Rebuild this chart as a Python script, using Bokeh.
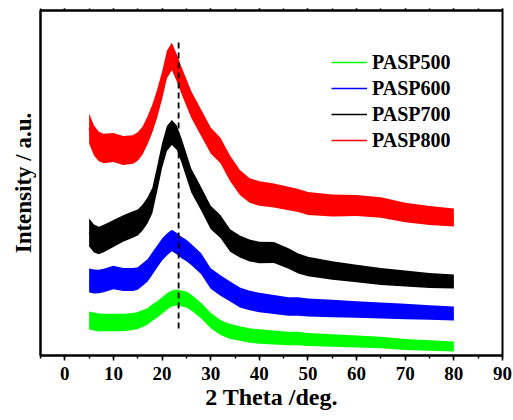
import numpy as np
from bokeh.plotting import figure
from bokeh.models import (LinearAxis, SingleIntervalTicker, FixedTicker, Range1d,
                          Legend, LegendItem)
from bokeh.embed import file_html
from bokeh.resources import INLINE

# ---- data (2 theta in degrees, intensity in a.u.) ----
two_theta = [5, 6, 7, 8, 10, 12, 14, 15, 16, 17, 18, 19, 20, 21, 22, 23, 24, 25, 26,
             28, 30, 32, 34, 36, 38, 40, 43, 46, 48, 50, 55, 60, 65, 70, 75, 80]

pasp800 = [227, 215, 209, 207, 208, 205, 206, 209, 215, 225, 237, 252, 270, 291, 299,
           288, 275, 263, 251, 233, 215, 205, 187, 173, 165, 162, 160, 157, 155, 152,
           150, 150, 148, 143, 140, 138]
pasp700 = [123, 117, 115, 117, 122, 127, 131, 133, 138, 145, 155, 177, 200, 217, 223,
           218, 205, 190, 175, 157, 138, 129, 115, 109, 105, 103, 103, 97, 92, 89,
           85, 82, 79, 77, 75, 74]
pasp600 = [75, 74, 74, 75, 78, 76, 76, 77, 81, 85, 92, 99, 106, 111, 115, 112, 108,
           105, 101, 92, 77, 70, 64, 58, 55, 53, 51, 49, 49, 48, 47, 46, 45, 44, 43, 42]
pasp500 = [35, 34, 33, 33, 33, 33, 34, 35, 37, 39, 43, 46, 50, 54, 57, 58, 57, 56, 53,
           45, 35, 28, 24, 22, 20, 19, 18, 17, 17, 16, 15, 14, 13, 11, 10, 9]

# noise half-amplitude (low angle, high angle)
noise_800 = (15, 9)
noise_700 = (14, 7)
noise_600 = (12, 7)
noise_500 = (9, 5)

series_names = ["PASP500", "PASP600", "PASP700", "PASP800"]
series_values = [pasp500, pasp600, pasp700, pasp800]
series_noise = [noise_500, noise_600, noise_700, noise_800]
series_colors = ["#00FF00", "#0000FF", "#000000", "#FF0000"]

peak_position = 23.4
peak_marker_span = [27, 315]

x_tick_values = [0, 10, 20, 30, 40, 50, 60, 70, 80, 90]
x_tick_interval = 10

x_title = "2 Theta /deg."
y_title = "Intensity / a.u."

FONT = "Liberation Serif"

p = figure(frame_width=462, frame_height=345,
           x_range=Range1d(-5, 90), y_range=Range1d(0, 345),
           output_backend="svg", toolbar_location=None,
           min_border_left=40, min_border_right=11, min_border_top=10, min_border_bottom=65)
p.grid.visible = False
p.outline_line_color = "black"
p.outline_line_width = 2
p.background_fill_color = "white"
p.border_fill_color = "white"

xa = p.xaxis[0]
xa.ticker = SingleIntervalTicker(interval=x_tick_interval, num_minor_ticks=2)
xa.axis_line_width = 2
xa.major_tick_line_width = 1.5
xa.minor_tick_line_width = 1.5
xa.major_tick_in = 0
xa.major_tick_out = 5
xa.minor_tick_in = 0
xa.minor_tick_out = 3
xa.major_label_text_font = FONT
xa.major_label_text_font_style = "bold"
xa.major_label_text_font_size = "19px"
xa.major_label_text_color = "black"
xa.major_label_standoff = 6
xa.axis_label = x_title
xa.axis_label_text_font = FONT
xa.axis_label_text_font_style = "bold"
xa.axis_label_text_font_size = "24px"
xa.axis_label_text_color = "black"
xa.axis_label_standoff = 1

ya = p.yaxis[0]
ya.ticker = FixedTicker(ticks=[])
ya.axis_line_width = 2
ya.major_tick_out = 0
ya.major_tick_in = 0
ya.minor_tick_out = 0
ya.minor_tick_in = 0
ya.axis_label = y_title
ya.axis_label_text_font = FONT
ya.axis_label_text_font_style = "bold"
ya.axis_label_text_font_size = "23px"
ya.axis_label_text_color = "black"
ya.axis_label_standoff = 5

top = LinearAxis(ticker=SingleIntervalTicker(interval=x_tick_interval, num_minor_ticks=2))
top.axis_line_width = 2
top.major_tick_in = 0
top.major_tick_out = 2
top.minor_tick_in = 0
top.minor_tick_out = 2
top.major_tick_line_width = 1.5
top.minor_tick_line_width = 1.5
top.major_label_overrides = {t: "" for t in x_tick_values}
top.major_label_text_font_size = "1px"
top.major_label_standoff = 0
p.add_layout(top, "above")

x = np.array(two_theta, dtype=float)
items = []
for name, vals, noise, col in zip(series_names, series_values, series_noise, series_colors):
    v = np.array(vals, dtype=float)
    half = noise[0] + (noise[1] - noise[0]) * (x - x[0]) / (x[-1] - x[0])
    p.varea(x=x, y1=v - half, y2=v + half, fill_color=col, fill_alpha=1.0)
    r = p.line(x, v, line_color=col, line_width=1.5)
    items.append(LegendItem(label=name, renderers=[r]))

p.line([peak_position, peak_position], peak_marker_span, line_color="black",
       line_width=1.8, line_dash="6 4")

legend = Legend(items=items, location=(291, 203))
legend.border_line_alpha = 0
legend.background_fill_alpha = 0
legend.padding = 0
legend.margin = 0
legend.spacing = 2
legend.glyph_width = 36
legend.glyph_height = 24
legend.label_height = 24
legend.label_standoff = 5
legend.label_text_font = FONT
legend.label_text_font_style = "bold"
legend.label_text_font_size = "20px"
legend.label_text_color = "black"
p.add_layout(legend)

open("out.html", "w").write(file_html(p, INLINE))
